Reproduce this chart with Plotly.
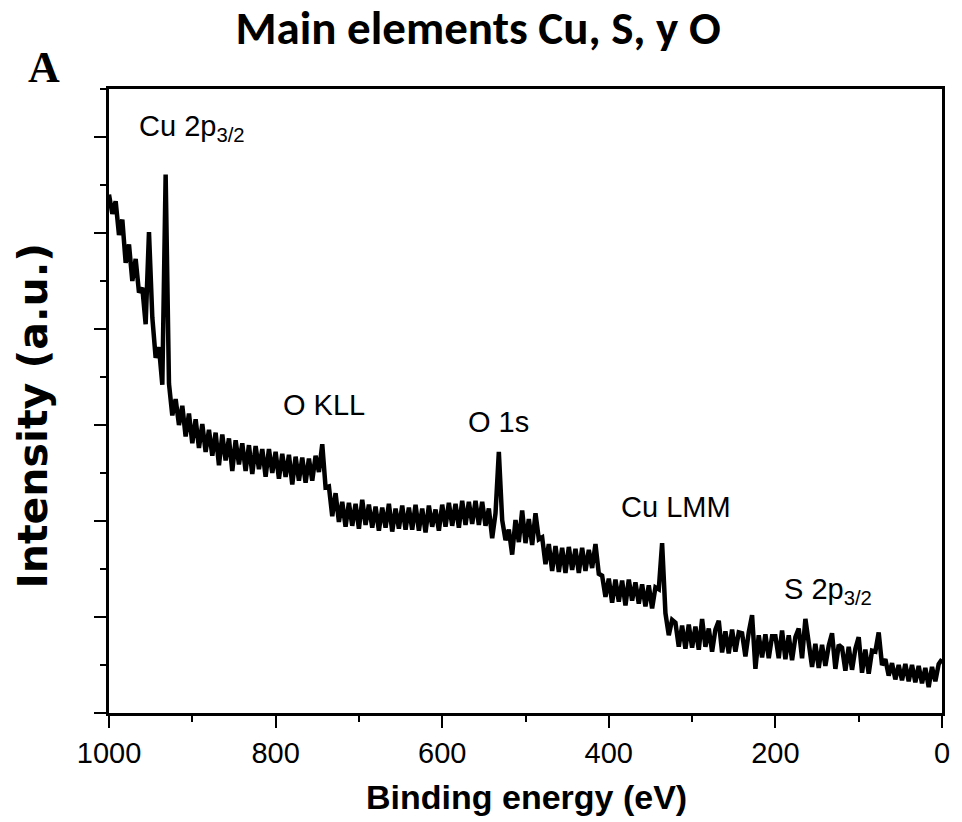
import plotly.graph_objects as go

# Survey XPS spectrum, binding energy from 1000 eV down to 0 eV in 4 eV steps
binding_energy = list(range(1000, -1, -4))

intensity = [
    # 1000 .. 964
    54.0, 52.0, 53.3, 49.8, 51.4, 46.9, 48.8, 45.0, 47.3, 43.8,
    # 960 .. 924
    44.3, 40.5, 50.1, 41.2, 37.0, 38.1, 34.2, 56.1, 34.3, 31.0,
    # 920 .. 884
    32.7, 30.0, 32.0, 28.8, 31.2, 28.1, 30.6, 27.6, 30.1, 27.2,
    # 880 .. 844
    29.5, 26.8, 29.2, 25.8, 29.0, 26.3, 28.6, 25.2, 28.4, 25.9,
    # 840 .. 804
    28.1, 25.2, 27.9, 24.9, 27.8, 25.4, 27.5, 24.6, 27.5, 25.0,
    # 800 .. 764
    27.2, 24.4, 27.0, 24.6, 26.9, 23.8, 26.7, 24.2, 26.6, 24.0,
    # 760 .. 724
    26.5, 24.2, 26.8, 25.1, 28.0, 23.5, 23.6, 20.5, 22.9, 19.9,
    # 720 .. 684
    22.0, 19.4, 21.9, 19.5, 21.8, 19.2, 22.2, 19.6, 21.7, 19.3,
    # 680 .. 644
    21.5, 19.0, 21.4, 19.3, 21.8, 18.9, 21.3, 19.2, 21.6, 19.1,
    # 640 .. 604
    21.4, 19.1, 21.7, 19.0, 21.3, 18.8, 21.6, 19.4, 21.2, 19.0,
    # 600 .. 564
    21.7, 19.4, 21.9, 19.5, 21.8, 19.3, 22.1, 19.6, 22.0, 19.7,
    # 560 .. 524
    22.1, 19.6, 22.0, 19.5, 21.3, 18.2, 20.8, 27.2, 20.1, 18.0,
    # 520 .. 484
    19.1, 16.5, 20.1, 17.8, 21.1, 17.7, 20.2, 17.5, 20.8, 18.1,
    # 480 .. 444
    18.3, 15.5, 17.6, 14.8, 17.4, 14.7, 17.2, 14.6, 17.3, 14.9,
    # 440 .. 404
    17.1, 14.6, 17.2, 14.8, 17.0, 15.1, 17.6, 14.5, 14.3, 12.1,
    # 400 .. 364
    14.0, 11.5, 13.9, 11.6, 13.8, 11.2, 13.9, 11.7, 13.6, 11.4,
    # 360 .. 324
    13.4, 11.1, 13.3, 10.9, 13.1, 12.9, 17.7, 10.4, 8.1, 9.7,
    # 320 .. 284
    9.4, 6.9, 9.1, 6.7, 9.2, 6.8, 9.0, 6.6, 9.8, 6.9,
    # 280 .. 244
    8.8, 6.4, 8.7, 9.6, 6.3, 8.5, 6.2, 8.7, 6.4, 8.4,
    # 240 .. 204
    8.3, 5.9, 8.4, 10.2, 4.6, 8.1, 5.8, 8.2, 5.7, 8.0,
    # 200 .. 164
    8.0, 5.7, 8.6, 5.6, 8.1, 5.5, 7.9, 8.8, 5.7, 9.8,
    # 160 .. 124
    7.3, 4.8, 7.2, 4.7, 7.1, 4.9, 7.0, 8.3, 4.6, 7.1,
    # 120 .. 84
    6.8, 4.4, 6.9, 4.5, 6.7, 7.9, 4.2, 6.6, 4.1, 6.5,
    # 80 .. 44
    6.4, 8.4, 5.0, 5.6, 3.9, 5.2, 3.5, 5.0, 3.4, 5.1,
    # 40 .. 4
    3.3, 5.0, 3.2, 4.9, 3.1, 4.7, 2.7, 4.8, 3.3, 5.1,
    # 0
    5.6,
]

# Peak labels: text, binding energy of label anchor, intensity of label anchor
peak_labels = ["Cu 2p<sub>3/2</sub>", "O KLL", "O 1s", "Cu LMM", "S 2p<sub>3/2</sub>"]
label_energy = [966.6, 741.4, 532.8, 319.4, 191.9]
label_intensity = [60.9, 32.1, 30.3, 21.5, 12.7]
label_anchor = ["left", "center", "center", "center", "left"]

x_ticks = [1000, 800, 600, 400, 200, 0]

ARIAL = "Arial, Liberation Sans, Helvetica, sans-serif"

fig = go.Figure(
    go.Scatter(
        x=binding_energy,
        y=intensity,
        mode="lines",
        line=dict(color="black", width=4.5),
        hoverinfo="x+y",
    )
)

annotations = []
for text, e, i, anc in zip(peak_labels, label_energy, label_intensity, label_anchor):
    annotations.append(
        dict(
            x=e, y=i, xref="x", yref="y", text=text, showarrow=False,
            xanchor=anc, yanchor="middle",
            font=dict(family=ARIAL, size=29, color="black"),
        )
    )

# Axis titles and panel letter
annotations += [
    dict(
        x=0.501, y=-0.1346, xref="paper", yref="paper",
        text="Binding energy (eV)", showarrow=False,
        xanchor="center", yanchor="middle",
        font=dict(family=ARIAL, size=34, color="black", weight="bold"),
    ),
    dict(
        x=-0.0918, y=0.476, xref="paper", yref="paper",
        text="Intensity (a.u.)", showarrow=False, textangle=-90,
        xanchor="center", yanchor="middle",
        font=dict(family="DejaVu Sans, Arial, sans-serif", size=41, color="black", weight="bold"),
    ),
    dict(
        x=-0.0775, y=1.035, xref="paper", yref="paper",
        text="A", showarrow=False,
        xanchor="center", yanchor="middle",
        font=dict(family="Liberation Serif, Times New Roman, serif", size=44, color="black", weight="bold"),
    ),
]

axis_common = dict(
    showline=True,
    linewidth=3,
    linecolor="black",
    mirror=True,
    showgrid=False,
    zeroline=False,
    ticks="outside",
    ticklen=12,
    tickwidth=2,
    tickcolor="black",
)

fig.update_layout(
    width=962,
    height=822,
    margin=dict(l=109, r=14, t=89, b=109),
    paper_bgcolor="white",
    plot_bgcolor="white",
    showlegend=False,
    title=dict(
        text="Main elements Cu, S, y O",
        x=0.497, y=1 - 28 / 822,
        xref="container", yref="container",
        xanchor="center", yanchor="middle",
        font=dict(family="Carlito, Lato, Open Sans, sans-serif", size=47, color="black", weight="bold"),
    ),
    xaxis=dict(
        range=[1000, 0],
        tickmode="array",
        tickvals=x_ticks,
        ticktext=[str(v) for v in x_ticks],
        tickfont=dict(family=ARIAL, size=29, color="black"),
        minor=dict(dtick=100, tick0=0, ticks="outside", ticklen=6, tickwidth=2, tickcolor="black"),
        **axis_common,
    ),
    yaxis=dict(
        range=[0, 65],
        tickmode="linear",
        tick0=0,
        dtick=10,
        showticklabels=False,
        minor=dict(dtick=5, tick0=0, ticks="outside", ticklen=6, tickwidth=2, tickcolor="black"),
        **axis_common,
    ),
    annotations=annotations,
)

fig.write_html("out.html")
